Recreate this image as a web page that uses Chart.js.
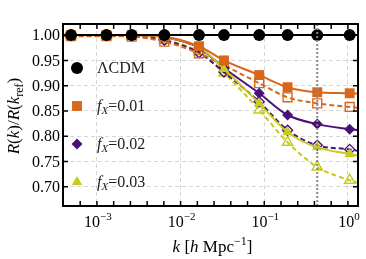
<!DOCTYPE html>
<html><head><meta charset="utf-8">
<script src="https://cdn.jsdelivr.net/npm/chart.js@4/dist/chart.umd.min.js"></script>
<style>html,body{margin:0;padding:0;background:#fff}#wrap{width:366px;height:259px}</style>
</head><body><div id="wrap"><canvas id="c" width="366" height="259"></canvas></div>
<script>
// ---- data ----
const kMarkers = [0.00049, 0.0013, 0.0026, 0.0064, 0.0166, 0.033, 0.087, 0.19, 0.43, 1.05];
const kLeftEdge = 0.00039;
const kRightEdge = 1.32;
const kRef = 0.43;

const lcdm      = [1.000, 1.000, 1.000, 1.000, 1.000, 1.000, 1.000, 1.000, 1.000, 1.000];
const fx01      = [1.000, 1.000, 1.000, 0.997, 0.978, 0.950, 0.921, 0.897, 0.887, 0.885];
const fx01Open  = [0.998, 0.998, 0.997, 0.987, 0.964, 0.940, 0.905, 0.877, 0.865, 0.858];
const fx02      = [1.000, 1.000, 1.000, 0.996, 0.975, 0.935, 0.885, 0.842, 0.824, 0.814];
const fx02Open  = [0.999, 0.999, 0.998, 0.990, 0.965, 0.927, 0.868, 0.812, 0.782, 0.774];
const fx03      = [1.000, 1.000, 1.000, 0.996, 0.976, 0.933, 0.865, 0.808, 0.778, 0.765];
const fx03Open  = [0.999, 0.999, 0.998, 0.990, 0.967, 0.925, 0.852, 0.788, 0.739, 0.713];
// line values at the right edge of the plot
const rightEdge = {lcdm:1.0, fx01:0.884, fx01Open:0.856, fx02:0.812, fx02Open:0.771, fx03:0.762, fx03Open:0.708};

const yTickValues = [0.70, 0.75, 0.80, 0.85, 0.90, 0.95, 1.00];
const yTickLabels = ['0.70','0.75','0.80','0.85','0.90','0.95','1.00'];
const xDecades = [-3, -2, -1, 0];
const xTickLabels = ['\u22123', '\u22122', '\u22121', '0'];
const xMinorExps = [-3.4,-3.2,-3.0,-2.8,-2.6,-2.4,-2.2,-2.0,-1.8,-1.6,-1.4,-1.2,-1.0,-0.8,-0.6,-0.4,-0.2,0.0];
const legendLabels = ['\u039BCDM', '0.01', '0.02', '0.03'];

const yMin = 0.662, yMax = 1.022;
const xMin = 0.000393, xMax = 1.32;

const C_ORANGE = '#d8671c', C_PURPLE = '#4b0f79', C_YELLOW = '#c6cb1c', C_BLACK = '#000';
const SERIF = '"Liberation Serif", "DejaVu Serif", serif';

function mkData(vals, rightVal){
  const pts = [{x:kLeftEdge, y:vals[0]}];
  kMarkers.forEach((k,i)=>pts.push({x:k, y:vals[i]}));
  pts.push({x:kRightEdge, y:rightVal});
  return pts;
}
function radii(r){ return [0].concat(kMarkers.map(()=>r)).concat([0]); }

function series(label, vals, rv, color, style, r, open){
  return {
    label, data: mkData(vals, rv),
    borderColor: color, borderWidth: 2,
    borderDash: open ? [5,3] : [],
    pointStyle: style, pointRadius: radii(r), pointHoverRadius: radii(r),
    pointBackgroundColor: open ? 'rgba(255,255,255,0)' : color,
    pointBorderColor: color, pointBorderWidth: open ? 1.4 : 0,
    cubicInterpolationMode: 'monotone', fill: false
  };
}

const datasets = [
  {label:'kref', data:[{x:kRef,y:yMin},{x:kRef,y:yMax}], borderColor:'#8a8a8a', borderWidth:2,
   borderDash:[2,2], pointRadius:0, fill:false},
  series('LCDM', lcdm, rightEdge.lcdm, C_BLACK, 'circle', 6, false),
  series('fx01', fx01, rightEdge.fx01, C_ORANGE, 'rect', 7, false),
  series('fx03', fx03, rightEdge.fx03, C_YELLOW, 'triangle', 6, false),
  series('fx02', fx02, rightEdge.fx02, C_PURPLE, 'rectRot', 5.5, false),
  series('fx01o', fx01Open, rightEdge.fx01Open, C_ORANGE, 'rect', 6.3, true),
  series('fx02o', fx02Open, rightEdge.fx02Open, C_PURPLE, 'rectRot', 5, true),
  series('fx03o', fx03Open, rightEdge.fx03Open, C_YELLOW, 'triangle', 6, true),
];

function drawRich(ctx, parts, x, y, align){
  let w = 0;
  parts.forEach(p=>{ ctx.font = (p.italic?'italic ':'') + p.size + 'px ' + SERIF; p.w = ctx.measureText(p.t).width; w += p.w; });
  let cx = align==='center' ? x - w/2 : (align==='right' ? x - w : x);
  ctx.textAlign = 'left'; ctx.textBaseline = 'alphabetic';
  parts.forEach(p=>{ ctx.font = (p.italic?'italic ':'') + p.size + 'px ' + SERIF; ctx.fillText(p.t, cx, y + (p.dy||0)); cx += p.w; });
}

const deco = {
  id:'deco',
  afterDraw(chart){
    const ctx = chart.ctx, a = chart.chartArea, xs = chart.scales.x, ys = chart.scales.y;
    ctx.save();
    ctx.fillStyle = '#000'; ctx.strokeStyle = '#000';
    // frame
    ctx.lineWidth = 2;
    ctx.strokeRect(a.left, a.top, a.right - a.left, a.bottom - a.top);
    // inward ticks
    ctx.lineWidth = 1.5;
    ctx.beginPath();
    xMinorExps.forEach(e=>{
      const px = xs.getPixelForValue(Math.pow(10,e));
      if (px < a.left + 1 || px > a.right - 1) return;
      ctx.moveTo(px, a.bottom); ctx.lineTo(px, a.bottom - 5);
      ctx.moveTo(px, a.top); ctx.lineTo(px, a.top + 5);
    });
    yTickValues.forEach(v=>{
      const py = ys.getPixelForValue(v);
      ctx.moveTo(a.left, py); ctx.lineTo(a.left + 5, py);
      ctx.moveTo(a.right, py); ctx.lineTo(a.right - 5, py);
    });
    ctx.stroke();
    // y tick labels
    ctx.font = '16px ' + SERIF; ctx.textAlign = 'right'; ctx.textBaseline = 'middle';
    yTickValues.forEach((v,i)=>{ ctx.fillText(yTickLabels[i], a.left - 3, ys.getPixelForValue(v) + 1); });
    // x tick labels
    xDecades.forEach((e,i)=>{
      const px = xs.getPixelForValue(Math.pow(10,e));
      drawRich(ctx, [{t:'10', size:16}, {t:xTickLabels[i], size:11, dy:-7}], px + 1, a.bottom + 21, 'center');
    });
    // x title
    drawRich(ctx, [{t:'k', size:17, italic:true}, {t:' [', size:17}, {t:'h', size:17, italic:true},
      {t:' Mpc', size:17}, {t:'\u22121', size:12, dy:-7}, {t:']', size:17}], (a.left + a.right)/2 + 2, a.bottom + 46, 'center');
    // y title
    ctx.save();
    ctx.translate(19, (a.top + a.bottom)/2 + 1);
    ctx.rotate(-Math.PI/2);
    drawRich(ctx, [{t:'R', size:17, italic:true}, {t:'(', size:17}, {t:'k', size:17, italic:true}, {t:')/', size:17},
      {t:'R', size:17, italic:true}, {t:'(', size:17}, {t:'k', size:17, italic:true}, {t:'ref', size:12, dy:4}, {t:')', size:17}], 0, 0, 'center');
    ctx.restore();
    // legend
    const legendY = [68, 106, 144, 182];
    const legendStyle = [['circle', C_BLACK, 6], ['rect', C_ORANGE, 7], ['rectRot', C_PURPLE, 5.5], ['triangle', C_YELLOW, 6]];
    legendStyle.forEach((s,i)=>{
      ctx.fillStyle = s[1]; ctx.strokeStyle = s[1];
      Chart.helpers.drawPoint(ctx, {pointStyle:s[0], radius:s[2], borderWidth:0}, 77, legendY[i]);
      ctx.fillStyle = '#222';
      if (i === 0) drawRich(ctx, [{t:legendLabels[0], size:16}], 97, legendY[i] + 5, 'left');
      else drawRich(ctx, [{t:'f', size:16, italic:true}, {t:'X', size:11, italic:true, dy:3}, {t:'=' + legendLabels[i], size:16}], 97, legendY[i] + 5, 'left');
    });
    ctx.restore();
  }
};

new Chart(document.getElementById('c'), {
  type:'line',
  data:{datasets},
  options:{
    responsive:false, animation:false, devicePixelRatio:1,
    layout:{padding:{left:63, right:8, top:24, bottom:53}},
    plugins:{legend:{display:false}, tooltip:{enabled:false}},
    scales:{
      x:{type:'logarithmic', min:xMin, max:xMax,
         afterBuildTicks: s => { s.ticks = xDecades.map(e=>({value:Math.pow(10,e)})); },
         afterFit: s => { s.height = 0; },
         ticks:{display:false}, border:{display:false, dash:[4,3]},
         grid:{drawTicks:false, color:'#d6d6d6', lineWidth:1, tickLength:0}
      },
      y:{type:'linear', min:yMin, max:yMax,
         afterBuildTicks: s => { s.ticks = yTickValues.map(v=>({value:v})); },
         afterFit: s => { s.width = 0; },
         ticks:{display:false}, border:{display:false, dash:[4,3]},
         grid:{drawTicks:false, color:'#d6d6d6', lineWidth:1}
      }
    }
  },
  plugins:[deco]
});
</script>
</body></html>
